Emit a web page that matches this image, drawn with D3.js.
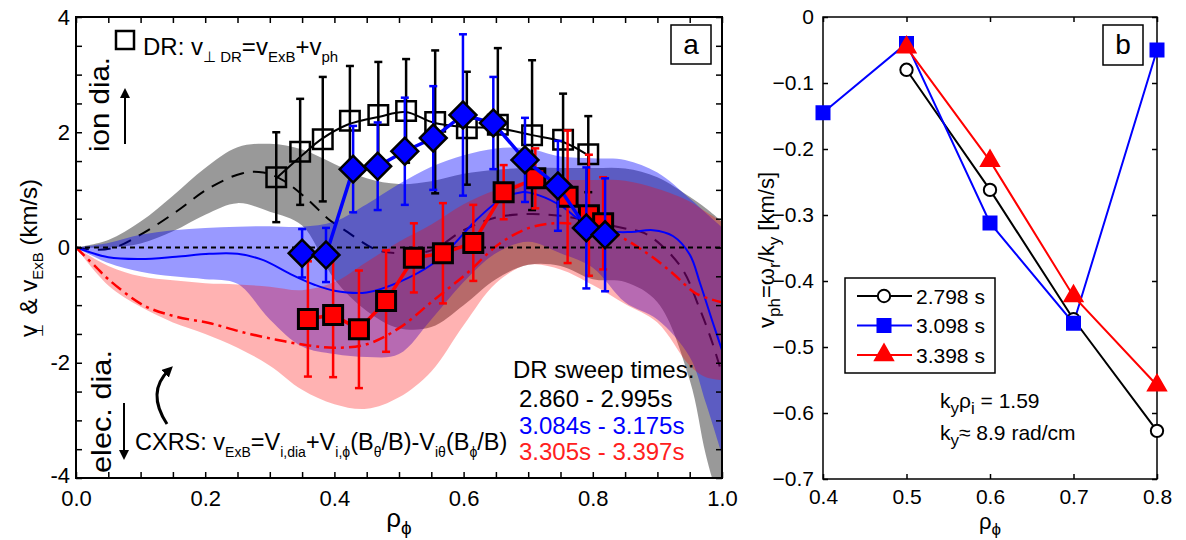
<!DOCTYPE html>
<html><head><meta charset="utf-8">
<script src="https://cdn.jsdelivr.net/npm/d3@7"></script>
<style>body{margin:0;background:#fff}svg{display:block}text{font-family:"Liberation Sans",Arial,Helvetica,sans-serif}</style>
</head><body><svg id="c" width="1186" height="540"></svg>
<script>
// ---------- Panel (a) data ----------
const bandRho = [0,0.05,0.1,0.15,0.2,0.25,0.3,0.35,0.4,0.45,0.5,0.55,0.6,0.65,0.7,0.75,0.8,0.85,0.9,0.95,0.975,1.0];
const grayHi = [0,0.13,0.45,0.9,1.38,1.74,1.8,1.7,1.45,1.2,1.1,1.15,1.28,1.35,1.38,1.38,1.38,1.37,1.22,0.88,0.68,0.45];
const grayLo = [0,0.0,0.07,0.28,0.57,0.77,0.62,0.38,-0.55,-1.1,-1.4,-1.38,-1.0,-0.55,-0.3,-0.32,-0.55,-0.6,-0.95,-2.3,-3.6,-4.6];
const blueHi = [0,0.08,0.22,0.3,0.34,0.36,0.37,0.36,0.45,0.75,1.1,1.4,1.6,1.72,1.72,1.58,1.55,1.52,1.3,0.85,0.6,0.35];
const blueLo = [0,-0.27,-0.42,-0.5,-0.55,-0.63,-1.25,-1.72,-1.85,-1.9,-1.85,-1.25,-0.6,-0.1,0.1,-0.1,-0.35,-0.95,-1.25,-1.9,-2.7,-3.6];
const redHi = [0,-0.32,-0.5,-0.57,-0.62,-0.64,-0.68,-0.74,-0.6,-0.25,0.1,0.4,0.75,1.0,1.15,1.17,1.17,1.16,1.02,0.8,0.62,0.45];
const redLo = [0,-0.66,-1.03,-1.3,-1.5,-1.74,-2.05,-2.47,-2.72,-2.8,-2.6,-2.15,-1.35,-0.62,-0.3,-0.38,-0.65,-0.98,-1.3,-2.05,-2.25,-2.3];

const blackDashRho = [0,0.03,0.06,0.104,0.155,0.206,0.258,0.29,0.32,0.36,0.39,0.42,0.465,0.5,0.55,0.6,0.65,0.7,0.75,0.8,0.85,0.88,0.91,0.94,0.965,0.985,1.0];
const blackDashV = [0,-0.04,0.0,0.25,0.62,1.03,1.29,1.3,1.17,0.82,0.5,0.27,-0.04,-0.1,-0.05,0.3,0.52,0.58,0.55,0.45,0.33,0.25,0.0,-0.4,-1.05,-1.65,-2.2];
const blueLineRho = [0,0.05,0.1,0.155,0.206,0.25,0.29,0.33,0.37,0.4,0.45,0.5,0.55,0.58,0.62,0.656,0.69,0.718,0.754,0.78,0.83,0.86,0.893,0.924,0.95,0.966,0.986,1.0];
const blueLineV = [0,-0.17,-0.2,-0.16,-0.11,-0.11,-0.22,-0.45,-0.65,-0.75,-0.78,-0.6,-0.3,0.0,0.48,0.82,0.96,0.9,0.7,0.48,0.28,0.27,0.3,0.2,-0.12,-0.62,-1.31,-1.78];
const redDashRho = [0,0.031,0.05,0.104,0.155,0.206,0.258,0.31,0.36,0.4,0.45,0.5,0.553,0.605,0.656,0.707,0.76,0.83,0.884,0.924,0.96,1.0];
const redDashV = [0,-0.34,-0.55,-1.0,-1.2,-1.31,-1.47,-1.6,-1.7,-1.74,-1.68,-1.4,-0.92,-0.45,0.07,0.36,0.42,0.25,-0.1,-0.45,-0.8,-0.95];

// DR points
const drRho = [0.31,0.347,0.382,0.424,0.468,0.511,0.556,0.605,0.653,0.706,0.754,0.793];
const drV = [1.22,1.66,1.88,2.2,2.3,2.37,2.18,2.07,2.13,1.95,1.87,1.62];
const drErr = [0.78,0.92,1.08,0.95,0.92,0.9,1.24,0.98,1.33,1.3,0.8,0.66];
const drFitRho = [0.31,0.35,0.38,0.42,0.47,0.51,0.555,0.605,0.653,0.706,0.754,0.79];
const drFitV = [1.2,1.6,1.88,2.13,2.27,2.35,2.16,2.09,2.07,1.95,1.83,1.62];
const bluePtRho = [0.35,0.387,0.429,0.467,0.509,0.553,0.599,0.646,0.695,0.746,0.79,0.819];
const bluePtV = [-0.1,-0.13,1.36,1.41,1.67,1.9,2.3,2.16,1.52,1.07,0.34,0.22];
const bluePtErr = [0.42,0.47,0.75,0.76,0.93,0.9,1.4,0.8,0.73,0.78,1.05,0.98];
const redPtRho = [0.359,0.398,0.438,0.48,0.523,0.568,0.615,0.662,0.711,0.761,0.794,0.816];
const redPtV = [-1.24,-1.17,-1.42,-0.93,-0.18,-0.1,0.08,0.96,1.2,0.88,0.56,0.42];
const redPtErr = [1.0,1.08,1.02,0.88,0.6,0.87,0.66,0.47,0.52,1.15,1.05,0.8];

const xTicksA = [0,0.05,0.1,0.15,0.2,0.25,0.3,0.35,0.4,0.45,0.5,0.55,0.6,0.65,0.7,0.75,0.8,0.85,0.9,0.95,1.0];
const xLabelsA = [0,0.2,0.4,0.6,0.8,1.0];
const yTicksA = [-4,-3.5,-3,-2.5,-2,-1.5,-1,-0.5,0,0.5,1,1.5,2,2.5,3,3.5,4];
const yLabelsA = [-4,-2,0,2,4];
const sweepTimes = ["2.860 - 2.995s","3.084s - 3.175s","3.305s - 3.397s"];

// ---------- Panel (b) data ----------
const rhoB = [0.4,0.5,0.6,0.7,0.8];
const vph2798 = [null,-0.08,-0.262,-0.458,-0.627];
const vph3098 = [-0.145,-0.04,-0.312,-0.464,-0.05];
const vph3398 = [null,-0.046,-0.218,-0.423,-0.558];
const legendB = ["2.798 s","3.098 s","3.398 s"];
const xTicksB = [0.4,0.5,0.6,0.7,0.8];
const yTicksB = [0,-0.1,-0.2,-0.3,-0.4,-0.5,-0.6,-0.7];

// ---------- drawing ----------
const svg = d3.select("#c");
const xA = d3.scaleLinear().domain([0,1]).range([76,722]);
const yA = d3.scaleLinear().domain([-4,4]).range([478,17]);
const xB = d3.scaleLinear().domain([0.4,0.8]).range([823,1157]);
const yB = d3.scaleLinear().domain([-0.7,0]).range([479,17]);

function rich(g, x, y, parts, size, subSize, opts) {
  opts = opts || {};
  const t = g.append("text").attr("x", x).attr("y", y).attr("font-size", size)
    .attr("fill", opts.fill || "#000").attr("text-anchor", opts.anchor || "start");
  if (opts.transform) t.attr("transform", opts.transform);
  let sub = false;
  const shift = opts.shift || Math.round(subSize * 0.45);
  parts.forEach(p => {
    const s = t.append("tspan").text(p[0]);
    if (p[1] === "s") {
      s.attr("font-size", subSize);
      if (!sub) s.attr("dy", shift);
      sub = true;
    } else {
      if (sub) s.attr("dy", -shift);
      sub = false;
    }
    if (p[2] !== undefined) s.attr("dx", p[2]);
  });
  return t;
}

const defs = svg.append("defs");
defs.append("clipPath").attr("id","clipA").append("rect")
  .attr("x",76).attr("y",17).attr("width",646).attr("height",461);
defs.append("marker").attr("id","ah").attr("viewBox","0 0 10 10").attr("refX",5).attr("refY",5)
  .attr("markerWidth",5).attr("markerHeight",5).attr("orient","auto-start-reverse")
  .append("path").attr("d","M0,0 L10,5 L0,10 z").attr("fill","#000");
defs.append("marker").attr("id","ah2").attr("viewBox","0 0 10 10").attr("refX",5).attr("refY",5)
  .attr("markerWidth",3.6).attr("markerHeight",3.6).attr("orient","auto-start-reverse")
  .append("path").attr("d","M0,0 L10,5 L0,10 z").attr("fill","#000");

const gA = svg.append("g");
const plotA = gA.append("g").attr("clip-path","url(#clipA)");

function area(lo, hi) {
  return d3.area().x((d,i)=>xA(bandRho[i])).y0((d,i)=>yA(lo[i])).y1((d,i)=>yA(hi[i]))
    .curve(d3.curveCatmullRom.alpha(0.5))(bandRho);
}
function line(rx, vy, curve) {
  return d3.line().x((d,i)=>xA(rx[i])).y((d,i)=>yA(vy[i])).curve(curve || d3.curveCatmullRom.alpha(0.5))(rx);
}

plotA.append("path").attr("d", area(grayLo, grayHi)).attr("fill","#000").attr("fill-opacity",0.4);
plotA.append("path").attr("d", line(blackDashRho, blackDashV)).attr("fill","none").attr("stroke","#000")
  .attr("stroke-width",2).attr("stroke-dasharray","13,9");
plotA.append("path").attr("d", area(blueLo, blueHi)).attr("fill","#0000ff").attr("fill-opacity",0.4);
plotA.append("path").attr("d", area(redLo, redHi)).attr("fill","#ff0000").attr("fill-opacity",0.3);
plotA.append("path").attr("d", line(blueLineRho, blueLineV)).attr("fill","none").attr("stroke","#0000ff").attr("stroke-width",2);
plotA.append("path").attr("d", line(redDashRho, redDashV)).attr("fill","none").attr("stroke","#ff0000")
  .attr("stroke-width",2.5).attr("stroke-dasharray","12,5,3,5");
plotA.append("line").attr("x1",xA(0)).attr("x2",xA(1)).attr("y1",yA(0)).attr("y2",yA(0))
  .attr("stroke","#000").attr("stroke-width",2).attr("stroke-dasharray","5,4");

function errBars(g, rx, vy, err, color) {
  rx.forEach((r,i)=>{
    const x = xA(r), y1 = yA(vy[i]+err[i]), y0 = yA(vy[i]-err[i]);
    g.append("line").attr("x1",x).attr("x2",x).attr("y1",y1).attr("y2",y0).attr("stroke",color).attr("stroke-width",2.5);
    [y0,y1].forEach(yy=>g.append("line").attr("x1",x-4).attr("x2",x+4).attr("y1",yy).attr("y2",yy)
      .attr("stroke",color).attr("stroke-width",2.5));
  });
}
function markers(g, rx, vy, sym, size, fill, sw, rot) {
  rx.forEach((r,i)=>{
    g.append("path").attr("d", d3.symbol(sym, size)())
      .attr("transform",`translate(${xA(r)},${yA(vy[i])})` + (rot ? ` rotate(${rot})` : ""))
      .attr("fill", fill).attr("stroke","#000").attr("stroke-width", sw);
  });
}

// black DR
errBars(plotA, drRho, drV, drErr, "#000");
plotA.append("path").attr("d", line(drFitRho, drFitV)).attr("fill","none").attr("stroke","#000").attr("stroke-width",2);
markers(plotA, drRho, drV, d3.symbolSquare, 380, "none", 2.5);
// red DR
errBars(plotA, redPtRho, redPtV, redPtErr, "#ff0000");
plotA.append("path").attr("d", line(redPtRho, redPtV, d3.curveLinear)).attr("fill","none").attr("stroke","#ff0000").attr("stroke-width",3.5);
markers(plotA, redPtRho, redPtV, d3.symbolSquare, 361, "#ff0000", 3);
// blue DR
errBars(plotA, bluePtRho, bluePtV, bluePtErr, "#0000ff");
plotA.append("path").attr("d", line(bluePtRho, bluePtV, d3.curveLinear)).attr("fill","none").attr("stroke","#0000ff").attr("stroke-width",3.5);
markers(plotA, bluePtRho, bluePtV, d3.symbolSquare, 361, "#0000ff", 2.5, 45);

// axes panel a
function styleAxis(g, size) {
  g.select(".domain").remove();
  g.selectAll(".tick line").attr("stroke","#000").attr("stroke-width",1.5);
  g.selectAll(".tick text").attr("font-size", size).attr("fill","#000")
    .attr("font-family",'"Liberation Sans", Arial, Helvetica, sans-serif');
  g.attr("font-family", null).attr("font-size", null);
}
const isLab = (arr, d) => arr.some(v => Math.abs(v-d) < 1e-9);
const axBA = gA.append("g").attr("transform","translate(0,478)")
  .call(d3.axisBottom(xA).tickValues(xTicksA).tickSize(-6).tickPadding(12)
    .tickFormat(d => isLab(xLabelsA, d) ? d3.format(".1f")(d) : ""));
styleAxis(axBA, 22);
const axTA = gA.append("g").attr("transform","translate(0,17)")
  .call(d3.axisTop(xA).tickValues(xTicksA).tickSize(-6).tickFormat(""));
styleAxis(axTA, 22);
const axLA = gA.append("g").attr("transform","translate(76,0)")
  .call(d3.axisLeft(yA).tickValues(yTicksA).tickSize(-6).tickPadding(6)
    .tickFormat(d => isLab(yLabelsA, d) ? (d < 0 ? "-" + (-d) : String(d)) : ""));
styleAxis(axLA, 22);
axLA.selectAll(".tick text").filter(d => d === -4).attr("dy", "0.2em");
const axRA = gA.append("g").attr("transform","translate(722,0)")
  .call(d3.axisRight(yA).tickValues(yTicksA).tickSize(-6).tickFormat(""));
styleAxis(axRA, 22);
gA.append("rect").attr("x",76).attr("y",17).attr("width",646).attr("height",461)
  .attr("fill","none").attr("stroke","#000").attr("stroke-width",2);

// labels panel a
rich(gA, 399, 527, [["ρ","n"],["ϕ","s"]], 26, 19, {anchor:"middle", shift:7});
rich(gA, 0, 0, [["v","n"],["⊥","s",-12],[" & v","n",3],["ExB","s"],[" (km/s)","n"]], 24, 15,
  {anchor:"middle", transform:"translate(37,258) rotate(-90)", shift:6});

// annotation: DR
gA.append("rect").attr("x",116).attr("y",31).attr("width",18).attr("height",18)
  .attr("fill","none").attr("stroke","#000").attr("stroke-width",2.5);
rich(gA, 143, 55, [["DR:","n"],[" v","n"],["⊥ DR","s"],["=v","n"],["ExB","s"],["+v","n"],["ph","s"]], 24, 15,
  {shift:7});
// ion dia / elec dia
gA.append("text").attr("transform","translate(109,152) rotate(-90)").attr("font-size",28)
  .attr("textLength",95).attr("lengthAdjust","spacingAndGlyphs").text("ion dia.");
gA.append("line").attr("x1",125).attr("x2",125).attr("y1",144).attr("y2",93)
  .attr("stroke","#000").attr("stroke-width",2).attr("marker-end","url(#ah)");
gA.append("text").attr("transform","translate(111,473) rotate(-90)").attr("font-size",28)
  .attr("textLength",123).attr("lengthAdjust","spacingAndGlyphs").text("elec. dia.");
gA.append("line").attr("x1",124).attr("x2",124).attr("y1",403).attr("y2",455)
  .attr("stroke","#000").attr("stroke-width",2).attr("marker-end","url(#ah)");
gA.append("path").attr("d","M167,424 Q146,392 169,370").attr("fill","none").attr("stroke","#000")
  .attr("stroke-width",3).attr("marker-end","url(#ah2)");
rich(gA, 135, 450, [["CXRS:","n"],[" v","n"],["ExB","s"],["=V","n"],["i,dia","s"],["+V","n"],["i,ϕ","s"],
  ["(B","n"],["θ","s"],["/B)-V","n"],["iθ","s"],["(B","n"],["ϕ","s"],["/B)","n"]], 23.5, 14, {shift:7});
// sweep times
gA.append("text").attr("x",513).attr("y",378).attr("font-size",24).text("DR sweep times:");
const sweepCol = ["#000","#0000ff","#ff2020"];
sweepTimes.forEach((s,i)=>gA.append("text").attr("x",519).attr("y",407+i*26.5).attr("font-size",24)
  .attr("fill",sweepCol[i]).text(s));
// panel letter
gA.append("rect").attr("x",671).attr("y",25).attr("width",40).attr("height",39).attr("fill","#fff")
  .attr("stroke","#000").attr("stroke-width",1.5);
gA.append("text").attr("x",691).attr("y",54).attr("text-anchor","middle").attr("font-size",28).text("a");

// ---------- panel b ----------
const gB = svg.append("g");
const axBB = gB.append("g").attr("transform","translate(0,479)")
  .call(d3.axisBottom(xB).tickValues(xTicksB).tickSize(-5).tickPadding(10).tickFormat(d3.format(".1f")));
styleAxis(axBB, 21);
const axTB = gB.append("g").attr("transform","translate(0,17)")
  .call(d3.axisTop(xB).tickValues(xTicksB).tickSize(-5).tickFormat(""));
styleAxis(axTB, 21);
const axLB = gB.append("g").attr("transform","translate(823,0)")
  .call(d3.axisLeft(yB).tickValues(yTicksB).tickSize(-5).tickPadding(9)
    .tickFormat(d => Math.abs(d) < 1e-9 ? "0" : d3.format(".1f")(d)));
styleAxis(axLB, 21);
const axRB = gB.append("g").attr("transform","translate(1157,0)")
  .call(d3.axisRight(yB).tickValues(yTicksB).tickSize(-5).tickFormat(""));
styleAxis(axRB, 21);
gB.append("rect").attr("x",823).attr("y",17).attr("width",334).attr("height",462)
  .attr("fill","none").attr("stroke","#000").attr("stroke-width",1.5);

const seriesB = [
  {v: vph2798, color:"#000", sym:d3.symbolCircle, size:120, fill:"#fff"},
  {v: vph3098, color:"#0000ff", sym:d3.symbolSquare, size:169, fill:"#0000ff"},
  {v: vph3398, color:"#ff0000", sym:d3.symbolTriangle, size:140, fill:"#ff0000"}
];
const lineB = d3.line().defined(d=>d[1]!==null).x(d=>xB(d[0])).y(d=>yB(d[1]));
seriesB.forEach(s=>{
  const pts = rhoB.map((r,i)=>[r, s.v[i]]);
  gB.append("path").attr("d", lineB(pts)).attr("fill","none").attr("stroke",s.color).attr("stroke-width",2);
});
seriesB.forEach(s=>{
  rhoB.forEach((r,i)=>{
    if (s.v[i] === null) return;
    gB.append("path").attr("d", d3.symbol(s.sym, s.size)()).attr("transform",`translate(${xB(r)},${yB(s.v[i])})`)
      .attr("fill", s.fill).attr("stroke", s.color).attr("stroke-width", 2);
  });
});
// legend
gB.append("rect").attr("x",845).attr("y",278).attr("width",150).attr("height",95)
  .attr("fill","#fff").attr("stroke","#000").attr("stroke-width",1.5);
seriesB.forEach((s,i)=>{
  const ly = 296 + i*29.5;
  gB.append("line").attr("x1",857).attr("x2",912).attr("y1",ly).attr("y2",ly).attr("stroke",s.color).attr("stroke-width",2);
  gB.append("path").attr("d", d3.symbol(s.sym, s.size)()).attr("transform",`translate(884,${ly})`)
    .attr("fill", s.fill).attr("stroke", s.color).attr("stroke-width", 2);
  gB.append("text").attr("x",916).attr("y",ly+7.5).attr("font-size",21).text(legendB[i]);
});
rich(gB, 940, 408, [["k","n"],["y","s"],["ρ","n"],["i","s"],[" = 1.59","n"]], 21, 17, {shift:6});
rich(gB, 940, 440, [["k","n"],["y","s"],["≈ 8.9 rad/cm","n"]], 21, 17, {shift:6});
rich(gB, 990, 529, [["ρ","n"],["ϕ","s"]], 22, 17, {anchor:"middle", shift:6});
rich(gB, 0, 0, [["v","n"],["ph","s"],["=ω","n"],["r","s"],["/k","n"],["y","s"],[" [km/s]","n"]], 22, 17,
  {anchor:"middle", transform:"translate(774,250) rotate(-90)", shift:6});
gB.append("rect").attr("x",1103).attr("y",25).attr("width",40).attr("height",40).attr("fill","#fff")
  .attr("stroke","#000").attr("stroke-width",1.5);
gB.append("text").attr("x",1123).attr("y",54).attr("text-anchor","middle").attr("font-size",28).text("b");
</script></body></html>
